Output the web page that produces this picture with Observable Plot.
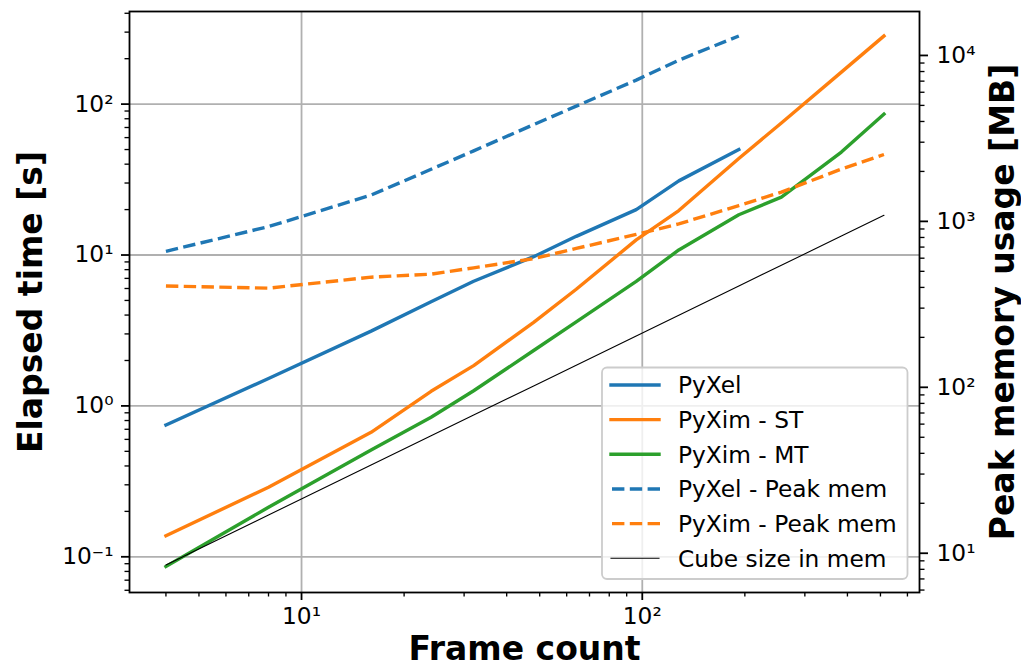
<!DOCTYPE html>
<html>
<head>
<meta charset="utf-8">
<script src="https://cdn.jsdelivr.net/npm/d3@7"></script>
<script src="https://cdn.jsdelivr.net/npm/@observablehq/plot@0.6"></script>
<style>
  html, body { margin: 0; padding: 0; background: #ffffff; }
  #wrap { position: relative; width: 1021px; height: 669px; font-family: "DejaVu Sans", sans-serif; }
  #legend { position: absolute; left: 0; top: 0; pointer-events: none; }
</style>
</head>
<body>
<div id="wrap"></div>
<script>
// ---------------- data ----------------
const frames      = [4, 8, 16, 24, 32, 48, 64, 96, 128, 192, 256, 384, 512];
const pyxelTime   = [0.748, 1.52, 3.13, 4.9, 6.7, 9.75, 13.3, 20, 31, 50];           // s, frames 4..192
const pyximST     = [0.138, 0.289, 0.668, 1.25, 1.85, 3.58, 5.93, 12.6, 19.7, 43.6, 75, 163, 283];
const pyximMT     = [0.0862, 0.213, 0.51, 0.841, 1.26, 2.33, 3.61, 6.69, 10.8, 18.5, 24.2, 48.1, 85.9];
const pyxelMem    = [660, 930, 1440, 2060, 2660, 3830, 4950, 7100, 9360, 13100];      // MB, frames 4..192
const pyximMem    = [408, 396, 461, 481, 525, 596, 687, 834, 966, 1245, 1501, 2066, 2530];
const cubeMem     = [8.5, 17, 34, 51, 68, 102, 136, 204, 272, 408, 544, 815, 1087];

const seriesNames = ["PyXel", "PyXim - ST", "PyXim - MT", "PyXel - Peak mem", "PyXim - Peak mem", "Cube size in mem"];
const xMajor = [10, 100];
const yMajor = [0.1, 1, 10, 100];
const rMajor = [10, 100, 1000, 10000];
const xLabel = "Frame count";
const yLabel = "Elapsed time [s]";
const rLabel = "Peak memory usage [MB]";

// ---------------- styling / layout ----------------
const W = 1021, H = 669;
const mL = 129, mR = 102, mT = 11, mB = 77;
const xDom = [3.127, 651], yDom = [0.058, 411], rDom = [5.80, 18400];
const C = {blue: "#1f77b4", orange: "#ff7f0e", green: "#2ca02c", black: "#000000", grid: "#b0b0b0"};
const LW = 3.4, DASH = "12.4,5.4";

const lg = Math.log10;
const kY = (lg(yDom[1]) - lg(yDom[0])) / (lg(rDom[1]) - lg(rDom[0]));
const memToY = m => Math.pow(10, lg(yDom[0]) + (lg(m) - lg(rDom[0])) * kY);
const yToMem = v => Math.pow(10, lg(rDom[0]) + (lg(v) - lg(yDom[0])) / kY);

const supMap = {"-": "\u207B", "0": "\u2070", "1": "\u00B9", "2": "\u00B2", "3": "\u00B3", "4": "\u2074",
                "5": "\u2075", "6": "\u2076", "7": "\u2077", "8": "\u2078", "9": "\u2079"};
const pow10 = v => "10" + String(Math.round(lg(v))).split("").map(c => supMap[c]).join("");

function minors(dom) {
  const out = [];
  for (let e = Math.floor(lg(dom[0])) - 1; e <= Math.ceil(lg(dom[1])); e++) {
    for (let m = 2; m <= 9; m++) {
      const v = m * Math.pow(10, e);
      if (v >= dom[0] && v <= dom[1]) out.push(v);
    }
  }
  return out;
}
const xMinor = minors(xDom);
const yMinor = minors(yDom);
const rMinor = minors(rDom);

const fx = (d, i) => frames[i];
const axisFont = 23.3;

const chart = Plot.plot({
  width: W, height: H,
  marginLeft: mL, marginRight: mR, marginTop: mT, marginBottom: mB,
  style: {fontFamily: "DejaVu Sans, sans-serif", fontSize: axisFont + "px", background: "#ffffff", color: "#000"},
  x: {type: "log", domain: xDom},
  y: {type: "log", domain: yDom},
  marks: [
    Plot.gridX(xMajor, {stroke: C.grid, strokeOpacity: 1, strokeWidth: 1.8}),
    Plot.gridY(yMajor, {stroke: C.grid, strokeOpacity: 1, strokeWidth: 1.8}),
    // left-axis series (elapsed time)
    Plot.line(pyxelTime, {x: fx, y: d => d, stroke: C.blue, strokeWidth: LW, strokeLinecap: "square"}),
    Plot.line(pyximST,   {x: fx, y: d => d, stroke: C.orange, strokeWidth: LW, strokeLinecap: "square"}),
    Plot.line(pyximMT,   {x: fx, y: d => d, stroke: C.green, strokeWidth: LW, strokeLinecap: "square"}),
    // right-axis series (memory), mapped onto the shared y scale
    Plot.line(pyxelMem, {x: fx, y: d => memToY(d), stroke: C.blue, strokeWidth: LW, strokeDasharray: DASH, strokeLinecap: "butt"}),
    Plot.line(pyximMem, {x: fx, y: d => memToY(d), stroke: C.orange, strokeWidth: LW, strokeDasharray: DASH, strokeLinecap: "butt"}),
    Plot.line(cubeMem,  {x: fx, y: d => memToY(d), stroke: C.black, strokeWidth: 1.1}),
    Plot.frame({stroke: "#000", strokeWidth: 1.8}),
    // axes
    Plot.axisX(xMajor, {tickSize: 8, tickPadding: 7, tickFormat: pow10, fontSize: axisFont, strokeWidth: 1.8, label: null}),
    Plot.axisX(xMinor, {tickSize: 4.5, tickFormat: () => "", strokeWidth: 1.35, label: null}),
    Plot.axisY(yMajor, {anchor: "left", tickSize: 8, tickPadding: 8, tickFormat: pow10, fontSize: axisFont, strokeWidth: 1.8, label: null}),
    Plot.axisY(yMinor, {anchor: "left", tickSize: 4.5, tickFormat: () => "", strokeWidth: 1.35, label: null}),
    Plot.axisY(rMajor.map(memToY), {anchor: "right", tickSize: 8, tickPadding: 9, tickFormat: v => pow10(yToMem(v)), fontSize: axisFont, strokeWidth: 1.8, label: null}),
    Plot.axisY(rMinor.map(memToY), {anchor: "right", tickSize: 4.5, tickFormat: () => "", strokeWidth: 1.35, label: null}),
    // axis titles
    Plot.text([yLabel], {text: d => d, frameAnchor: "left", dx: -98, rotate: -90, fontSize: 33, fontWeight: "bold", textAnchor: "middle", lineAnchor: "middle", fill: "#000"}),
    Plot.text([rLabel], {text: d => d, frameAnchor: "right", dx: 83.5, rotate: -90, fontSize: 33, fontWeight: "bold", textAnchor: "middle", lineAnchor: "middle", fill: "#000"}),
    Plot.text([xLabel], {text: d => d, frameAnchor: "bottom", dy: 57, fontSize: 33, fontWeight: "bold", textAnchor: "middle", lineAnchor: "middle", fill: "#000"})
  ]
});

const wrap = document.getElementById("wrap");
wrap.appendChild(chart);

// ---------------- legend (matplotlib style, overlay) ----------------
const legendStyles = [
  {stroke: C.blue, width: LW, dash: null},
  {stroke: C.orange, width: LW, dash: null},
  {stroke: C.green, width: LW, dash: null},
  {stroke: C.blue, width: LW, dash: DASH},
  {stroke: C.orange, width: LW, dash: DASH},
  {stroke: C.black, width: 1.1, dash: null}
];
const svg = d3.select(wrap).append("svg")
  .attr("id", "legend").attr("width", W).attr("height", H);
svg.append("rect")
  .attr("x", 602).attr("y", 367.5).attr("width", 305.5).attr("height", 211.5)
  .attr("rx", 5).attr("ry", 5)
  .attr("fill", "rgba(255,255,255,0.8)").attr("stroke", "#cccccc").attr("stroke-width", 1.8);
const row0 = 385, rowStep = 34.66;
seriesNames.forEach((name, i) => {
  const y = row0 + i * rowStep;
  const st = legendStyles[i];
  const ln = svg.append("line")
    .attr("x1", 611).attr("x2", 659).attr("y1", y).attr("y2", y)
    .attr("stroke", st.stroke).attr("stroke-width", st.width)
    .attr("stroke-linecap", st.dash ? "butt" : "square");
  if (st.dash) ln.attr("stroke-dasharray", st.dash).attr("x1", 612).attr("x2", 661);
  svg.append("text")
    .attr("x", 678).attr("y", y + 8.4)
    .attr("font-family", "DejaVu Sans, sans-serif").attr("font-size", 23.3)
    .attr("fill", "#000").text(name);
});
</script>
</body>
</html>
